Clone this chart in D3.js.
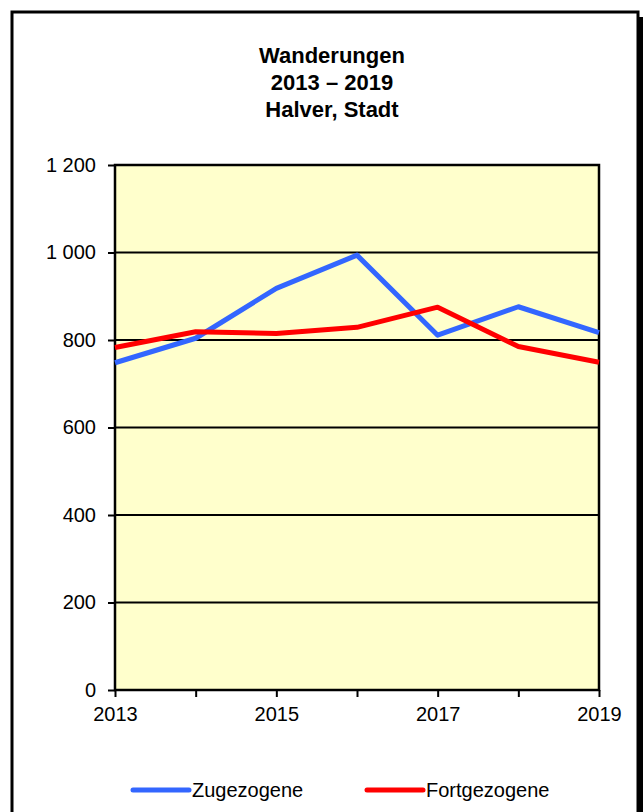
<!DOCTYPE html>
<html>
<head>
<meta charset="utf-8">
<script src="https://cdn.jsdelivr.net/npm/d3@7"></script>
<style>
  html, body { margin: 0; padding: 0; background: #fff; }
  svg { display: block; font-family: "Liberation Sans", Arial, sans-serif; }
</style>
</head>
<body>
<div id="my-chart"></div>
<script>
// data
const years = [2013, 2014, 2015, 2016, 2017, 2018, 2019];
const zugezogene = [748, 804, 918, 994, 811, 876, 817];
const fortgezogene = [783, 819, 815, 829, 875, 785, 749];
const yTicks = [0, 200, 400, 600, 800, 1000, 1200];
const xLabelYears = [2013, 2015, 2017, 2019];
const titleLines = ["Wanderungen", "2013 \u2013 2019", "Halver, Stadt"];
const seriesNames = ["Zugezogene", "Fortgezogene"];
const seriesColors = ["#3366ff", "#ff0000"];

const width = 643, height = 812;
const marginLeft = 115, marginRight = 44, marginTop = 165, marginBottom = 122;

const svg = d3.select("#my-chart").append("svg")
    .attr("width", width)
    .attr("height", height)
    .attr("viewBox", [0, 0, width, height]);

// outer frame with shadow on the right
svg.append("rect")
    .attr("x", 17).attr("y", 17)
    .attr("width", 626).attr("height", height)
    .attr("fill", "#000");
svg.append("rect")
    .attr("x", 12).attr("y", 12)
    .attr("width", 626).attr("height", height + 10)
    .attr("fill", "#fff")
    .attr("stroke", "#000")
    .attr("stroke-width", 3);

// title
svg.append("g")
    .attr("font-weight", "bold")
    .attr("font-size", 22)
    .attr("text-anchor", "middle")
  .selectAll("text")
  .data(titleLines)
  .join("text")
    .attr("x", 332)
    .attr("y", (d, i) => 63 + i * 27)
    .text(d => d);

const x = d3.scalePoint()
    .domain(years)
    .range([marginLeft, width - marginRight]);

const y = d3.scaleLinear()
    .domain([0, 1200])
    .range([height - marginBottom, marginTop]);

// plot area
svg.append("rect")
    .attr("x", marginLeft)
    .attr("y", marginTop)
    .attr("width", width - marginLeft - marginRight)
    .attr("height", height - marginTop - marginBottom)
    .attr("fill", "#ffffcc");

// gridlines
svg.append("g")
  .selectAll("line")
  .data(yTicks.filter(d => d > 0 && d < 1200))
  .join("line")
    .attr("x1", marginLeft)
    .attr("x2", width - marginRight)
    .attr("y1", d => y(d))
    .attr("y2", d => y(d))
    .attr("stroke", "#000")
    .attr("stroke-width", 2);

// y-axis
svg.append("g")
    .attr("transform", `translate(${marginLeft},0)`)
    .call(d3.axisLeft(y)
        .tickValues(yTicks)
        .tickSize(7)
        .tickPadding(12)
        .tickFormat(d => d3.format(",")(d).replace(",", " ")))
    .call(g => g.select(".domain").remove())
    .call(g => g.selectAll(".tick line").attr("stroke", "#000").attr("stroke-width", 2))
    .call(g => g.selectAll(".tick text")
        .attr("font-size", 20)
        .attr("font-family", "'Liberation Sans', Arial, sans-serif")
        .attr("fill", "#000"));

// x-axis
svg.append("g")
    .attr("transform", `translate(0,${height - marginBottom})`)
    .call(d3.axisBottom(x)
        .tickSize(7)
        .tickPadding(10)
        .tickFormat(d => xLabelYears.includes(d) ? d : ""))
    .call(g => g.select(".domain").remove())
    .call(g => g.selectAll(".tick line").attr("stroke", "#000").attr("stroke-width", 2))
    .call(g => g.selectAll(".tick text")
        .attr("font-size", 20)
        .attr("font-family", "'Liberation Sans', Arial, sans-serif")
        .attr("fill", "#000"));

// plot border
svg.append("rect")
    .attr("x", marginLeft)
    .attr("y", marginTop)
    .attr("width", width - marginLeft - marginRight)
    .attr("height", height - marginTop - marginBottom)
    .attr("fill", "none")
    .attr("stroke", "#000")
    .attr("stroke-width", 2.5);

// lines
const line = d3.line()
    .x((d, i) => x(years[i]))
    .y(d => y(d));

svg.append("g")
    .attr("fill", "none")
    .attr("stroke-width", 5)
    .attr("stroke-linejoin", "round")
  .selectAll("path")
  .data([zugezogene, fortgezogene])
  .join("path")
    .attr("stroke", (d, i) => seriesColors[i])
    .attr("d", line);

// legend
const legendX = [133, 367];
const legend = svg.append("g")
  .selectAll("g")
  .data(seriesNames)
  .join("g")
    .attr("transform", (d, i) => `translate(${legendX[i]},790)`);

legend.append("line")
    .attr("x1", 0).attr("x2", 56)
    .attr("stroke", (d, i) => seriesColors[i])
    .attr("stroke-width", 5)
    .attr("stroke-linecap", "round");

legend.append("text")
    .attr("x", 59)
    .attr("y", 7)
    .attr("font-size", 20)
    .text(d => d);
</script>
</body>
</html>
